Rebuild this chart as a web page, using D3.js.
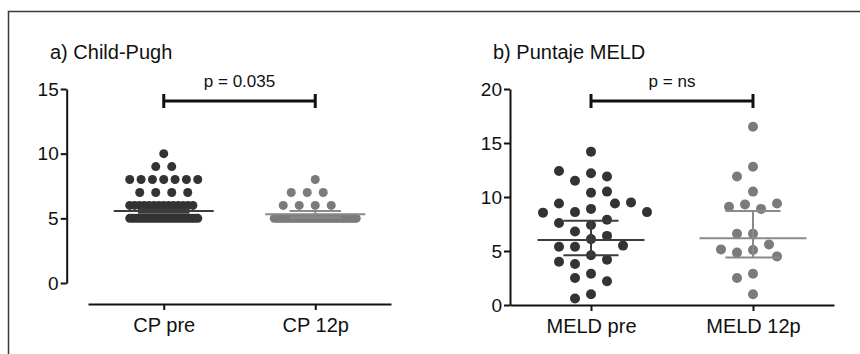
<!DOCTYPE html>
<html>
<head>
<meta charset="utf-8">
<script src="https://cdn.jsdelivr.net/npm/d3@7"></script>
<style>
    body { margin: 0; background: #fff; }
    svg text { font-family: "Liberation Sans", Arial, sans-serif; fill: #111; }
    .axis path, .axis line { stroke: #111; stroke-width: 2; }
    .axis text { font-size: 19px; }
    .axis-x text { font-size: 20px; }
    .panel-title { font-size: 20px; }
    .p-label { font-size: 17px; }
</style>
</head>
<body>
<div id="chart"></div>
<script>
// a) Child-Pugh, integer scores
const cpGroups = ['CP pre', 'CP 12p'];
const cpPre = [10, 9, 9, 8, 8, 8, 8, 8, 8, 8, 7, 7, 7, 7,
    6, 6, 6, 6, 6, 6, 6, 6, 6, 6, 6, 6, 6, 6,
    5, 5, 5, 5, 5, 5, 5, 5, 5, 5, 5, 5, 5, 5, 5, 5, 5, 5, 5, 5, 5, 5, 5, 5, 5, 5];
const cp12p = [8, 7, 7, 7, 6, 6, 6, 6,
    5, 5, 5, 5, 5, 5, 5, 5, 5, 5, 5, 5, 5, 5, 5, 5, 5, 5, 5, 5, 5, 5,
    5, 5, 5, 5, 5, 5, 5, 5, 5, 5, 5, 5, 5, 5, 5, 5];
// mean, lower, upper (as drawn)
const cpSummary = [[5.57, 5.44, 5.70], [5.31, 5.06, 5.56]];
const cpTicks = [0, 5, 10, 15];
const cpP = 'p = 0.035';

// b) Puntaje MELD
const meldGroups = ['MELD pre', 'MELD 12p'];
const meldPre = [14.2, 12.2, 11.5, 11.9, 12.4, 10.4, 10.5, 8.9, 8.6, 9.4, 9.4, 9.5,
    8.55, 8.6, 7.9, 7.4, 7.6, 6.8, 6.1, 6.4, 5.4, 5.4, 5.5, 4.6, 4.2, 3.8, 4.0,
    2.9, 2.5, 2.2, 1.0, 0.6];
const meld12p = [16.5, 12.8, 11.9, 10.5, 9.3, 8.9, 9.1, 9.4, 6.6, 6.6, 5.6, 5.1,
    4.85, 5.15, 4.5, 2.9, 2.5, 1.0];
const meldSummary = [[6.02, 4.6, 7.8], [6.18, 4.4, 8.7]];
const meldTicks = [0, 5, 10, 15, 20];
const meldP = 'p = ns';

const colors = ['#333333', '#7b7b7b'];
const lineColors = ['#3c3c3c', '#8a8a8a'];

function swarm(values, y, step, minDist, maxHalf) {
    // simple beeswarm: each point takes the nearest free slot
    let placed = [];
    values.forEach(v => {
        let py = y(v), off = 0;
        for (let i = 0; i < 200; i++) {
            off = (i % 2 ? -1 : 1) * Math.ceil(i / 2) * step;
            if (placed.every(p => Math.hypot(p.off - off, p.y - py) >= minDist)) break;
        }
        placed.push({v: v, y: py, off: off});
    });
    // squeeze rows of identical values that get too wide
    d3.group(placed, d => d.v).forEach(row => {
        let ext = d3.max(row, d => Math.abs(d.off));
        if (ext > maxHalf) row.forEach(d => d.off *= maxHalf / ext);
    });
    return placed;
}

function drawPanel(svg, opt) {
    let g = svg.append('g');
    let y = d3.scaleLinear().domain(opt.yDomain).range([opt.y0, opt.yTop]);
    let x = d3.scalePoint().domain(opt.groups).range(opt.xRange).padding(0.5);
    let step = x.step();

    g.append('text').attr('class', 'panel-title')
     .attr('x', opt.titleX).attr('y', 59).text(opt.title);

    g.append('g').attr('class', 'axis')
     .attr('transform', `translate(${opt.yAxisX},0)`)
     .call(d3.axisLeft(y).tickValues(opt.ticks).tickSize(6).tickSizeOuter(0).tickPadding(2));

    g.append('g').attr('class', 'axis axis-x')
     .attr('transform', `translate(0,${opt.xAxisY})`)
     .call(d3.axisBottom(x).tickSize(6).tickSizeOuter(0).tickPadding(8));

    g.selectAll('.domain').attr('fill', 'none');

    opt.series.forEach((vals, i) => {
        let cx = x(opt.groups[i]);
        let pts = swarm(vals, y, 8, opt.minDist, opt.maxHalf[i]);
        g.append('g').selectAll('circle')
         .data(pts).enter().append('circle')
         .attr('cx', d => cx + d.off)
         .attr('cy', d => d.y)
         .attr('r', opt.r)
         .attr('fill', colors[i]);

        let s = opt.summary[i], wMean = step * 0.33, wErr = step * 0.17;
        let sg = g.append('g').attr('stroke', lineColors[i]).attr('stroke-width', 2);
        sg.append('line')
          .attr('x1', cx - wMean).attr('x2', cx + wMean)
          .attr('y1', y(s[0])).attr('y2', y(s[0]));
        [s[1], s[2]].forEach(v => {
            sg.append('line')
              .attr('x1', cx - wErr).attr('x2', cx + wErr)
              .attr('y1', y(v)).attr('y2', y(v));
        });
        sg.append('line')
          .attr('x1', cx).attr('x2', cx)
          .attr('y1', y(s[1])).attr('y2', y(s[2]));
    });

    // significance bracket
    let x1 = x(opt.groups[0]), x2 = x(opt.groups[1]), by = 101;
    let bg = g.append('g').attr('stroke', '#111').attr('stroke-width', 3);
    bg.append('line').attr('x1', x1).attr('x2', x2).attr('y1', by).attr('y2', by);
    [x1, x2].forEach(xx => {
        bg.append('line').attr('x1', xx).attr('x2', xx).attr('y1', by - 7).attr('y2', by + 7);
    });
    g.append('text').attr('class', 'p-label')
     .attr('x', (x1 + x2) / 2).attr('y', 87)
     .attr('text-anchor', 'middle').text(opt.pLabel);
}

let svg = d3.select('#chart').append('svg')
            .attr('width', 860).attr('height', 354);

svg.append('path')
   .attr('d', 'M8.5,354V11.5H860')
   .attr('fill', 'none').attr('stroke', '#3a3a3a').attr('stroke-width', 1.5);

drawPanel(svg, {
    title: 'a) Child-Pugh', titleX: 50,
    groups: cpGroups, series: [cpPre, cp12p], summary: cpSummary,
    ticks: cpTicks, yDomain: [0, 15], y0: 283, yTop: 89,
    yAxisX: 66.7, xAxisY: 304, xRange: [88, 391],
    r: 4.5, minDist: 14, maxHalf: [34, 41], pLabel: cpP
});

drawPanel(svg, {
    title: 'b) Puntaje MELD', titleX: 493,
    groups: meldGroups, series: [meldPre, meld12p], summary: meldSummary,
    ticks: meldTicks, yDomain: [0, 20], y0: 305, yTop: 89,
    yAxisX: 510, xAxisY: 305, xRange: [510, 834],
    r: 5, minDist: 14, maxHalf: [60, 60], pLabel: meldP
});
</script>
</body>
</html>
